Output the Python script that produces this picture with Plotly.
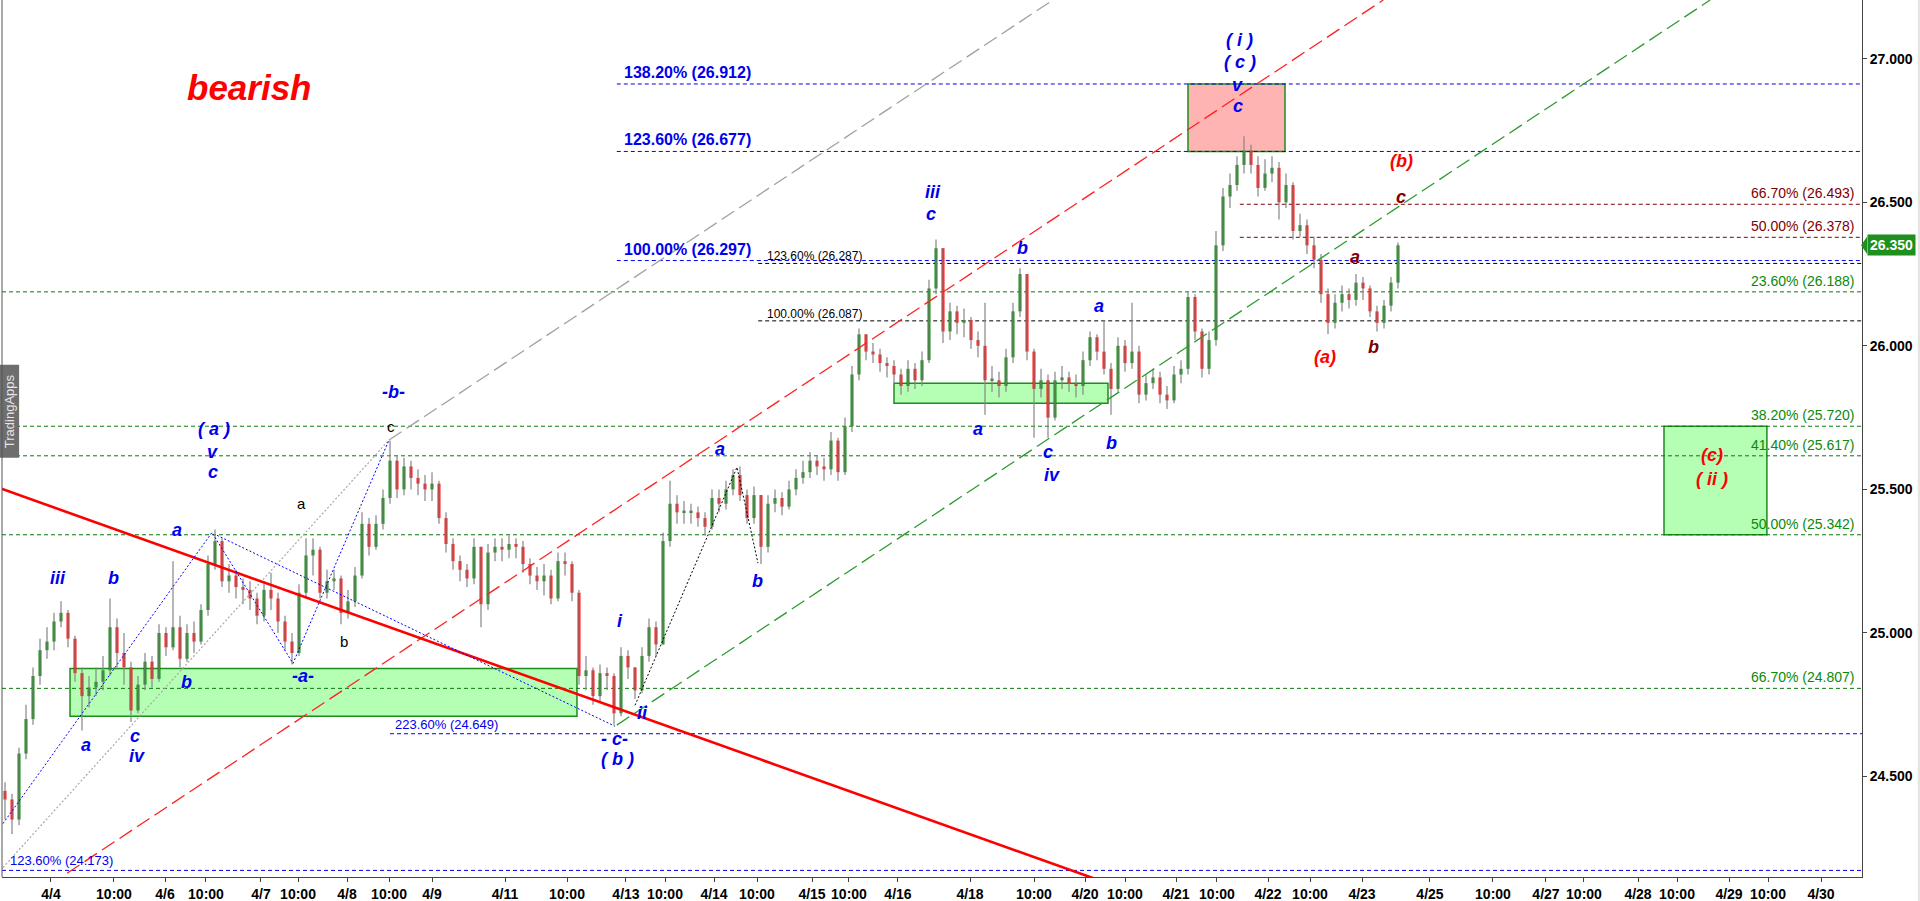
import plotly.graph_objects as go

# ---------------- price data (one bar per slot) ----------------
open_first = 24.45
close = [
    24.42, 24.35, 24.58, 24.70, 24.85, 24.94, 24.97, 25.04, 25.07, 24.98,
    24.86, 24.78, 24.81, 24.83, 24.87, 25.02, 24.93, 24.88, 24.73, 24.82,
    24.90, 24.84, 25.00, 24.95, 25.02, 24.91, 25.00, 24.97, 25.08, 25.24,
    25.32, 25.18, 25.20, 25.16, 25.15, 25.12, 25.06, 25.15, 25.12, 25.04,
    24.97, 24.93, 25.14, 25.27, 25.29, 25.14, 25.18, 25.19, 25.07, 25.11,
    25.20, 25.38, 25.30, 25.38, 25.47, 25.60, 25.50, 25.58, 25.54, 25.52,
    25.50, 25.52, 25.40, 25.31, 25.25, 25.22, 25.19, 25.30, 25.10, 25.28,
    25.30, 25.29, 25.31, 25.30, 25.24, 25.20, 25.18, 25.20, 25.12, 25.25,
    25.24, 25.14, 24.85, 24.87, 24.78, 24.86, 24.85, 24.72, 24.92, 24.88,
    24.80, 24.92, 25.02, 24.96, 25.32, 25.45, 25.42, 25.42, 25.42, 25.40,
    25.37, 25.47, 25.45, 25.50, 25.55, 25.48, 25.40, 25.48, 25.30, 25.45,
    25.47, 25.44, 25.50, 25.54, 25.56, 25.60, 25.58, 25.57, 25.67, 25.56,
    25.72, 25.90, 26.04, 25.98, 25.97, 25.94, 25.93, 25.90, 25.86, 25.92,
    25.88, 25.95, 26.20, 26.34, 26.05, 26.12, 26.08, 26.09, 26.02, 26.00,
    25.88, 25.88, 25.86, 25.96, 26.12, 26.25, 25.98, 25.85, 25.88, 25.75,
    25.88, 25.89, 25.87, 25.86, 25.95, 26.03, 25.98, 25.92, 25.85, 26.00,
    25.94, 25.98, 25.83, 25.87, 25.89, 25.83, 25.81, 25.90, 25.92, 26.17,
    26.05, 25.92, 26.02, 26.35, 26.52, 26.56, 26.63, 26.68, 26.63, 26.55,
    26.60, 26.62, 26.50, 26.56, 26.40, 26.42, 26.35, 26.30, 26.18, 26.08,
    26.15, 26.18, 26.16, 26.22, 26.20, 26.12, 26.08, 26.14, 26.22, 26.35,
]
high = [
    24.48, 24.44, 24.60, 24.75, 24.88, 24.98, 25.02, 25.07, 25.11, 25.08,
    24.99, 24.88, 24.85, 24.88, 24.92, 25.12, 25.05, 25.00, 24.90, 24.85,
    24.93, 24.92, 25.03, 25.02, 25.25, 25.06, 25.03, 25.04, 25.10, 25.27,
    25.36, 25.33, 25.24, 25.22, 25.19, 25.18, 25.14, 25.18, 25.21, 25.14,
    25.06, 25.00, 25.17, 25.33, 25.33, 25.30, 25.22, 25.22, 25.20, 25.15,
    25.23, 25.42, 25.40, 25.41, 25.50, 25.67, 25.62, 25.61, 25.60, 25.57,
    25.55, 25.56, 25.53, 25.42, 25.33, 25.27, 25.24, 25.33, 25.30, 25.31,
    25.33, 25.33, 25.34, 25.33, 25.32, 25.26, 25.23, 25.24, 25.22, 25.28,
    25.28, 25.25, 25.15, 24.92, 24.88, 24.89, 24.88, 24.86, 24.95, 24.94,
    24.88, 24.95, 25.05, 25.04, 25.35, 25.53, 25.48, 25.46, 25.45, 25.44,
    25.42, 25.50, 25.50, 25.53, 25.57, 25.58, 25.50, 25.51, 25.48, 25.48,
    25.50, 25.49, 25.53, 25.57, 25.60, 25.63, 25.62, 25.61, 25.70, 25.68,
    25.75, 25.93, 26.06, 26.04, 26.01, 25.99, 25.96, 25.95, 25.92, 25.95,
    25.94, 25.98, 26.23, 26.37, 26.33, 26.15, 26.14, 26.13, 26.10, 26.05,
    26.15, 25.93, 25.91, 25.99, 26.15, 26.27, 26.24, 25.99, 25.92, 25.90,
    25.91, 25.93, 25.91, 25.90, 25.98, 26.05, 26.04, 26.09, 25.94, 26.03,
    26.02, 26.15, 26.00, 25.90, 25.92, 25.91, 25.86, 25.93, 25.95, 26.19,
    26.18, 26.06, 26.05, 26.40, 26.55, 26.60, 26.66, 26.73, 26.70, 26.66,
    26.65, 26.66, 26.64, 26.60, 26.57, 26.46, 26.44, 26.38, 26.32, 26.20,
    26.18, 26.21, 26.20, 26.25, 26.24, 26.21, 26.14, 26.16, 26.24, 26.36,
]
low = [
    24.35, 24.30, 24.33, 24.56, 24.68, 24.82, 24.91, 24.94, 25.02, 24.95,
    24.83, 24.66, 24.74, 24.78, 24.80, 24.85, 24.88, 24.82, 24.69, 24.72,
    24.80, 24.81, 24.83, 24.92, 24.94, 24.88, 24.90, 24.93, 24.96, 25.06,
    25.22, 25.16, 25.14, 25.12, 25.10, 25.08, 25.03, 25.04, 25.08, 25.00,
    24.94, 24.89, 24.92, 25.12, 25.20, 25.12, 25.12, 25.15, 25.03, 25.05,
    25.09, 25.19, 25.27, 25.29, 25.36, 25.45, 25.47, 25.48, 25.50, 25.48,
    25.46, 25.46, 25.38, 25.28, 25.22, 25.18, 25.16, 25.17, 25.02, 25.08,
    25.25, 25.25, 25.26, 25.26, 25.21, 25.17, 25.15, 25.13, 25.10, 25.11,
    25.20, 25.11, 24.82, 24.80, 24.75, 24.76, 24.80, 24.68, 24.71, 24.84,
    24.77, 24.79, 24.90, 24.92, 24.97, 25.30, 25.38, 25.38, 25.38, 25.37,
    25.34, 25.36, 25.42, 25.43, 25.48, 25.46, 25.38, 25.38, 25.24, 25.28,
    25.42, 25.41, 25.43, 25.48, 25.52, 25.54, 25.55, 25.53, 25.55, 25.53,
    25.55, 25.70, 25.88, 25.95, 25.94, 25.91, 25.89, 25.86, 25.83, 25.84,
    25.85, 25.86, 25.94, 26.18, 26.01, 26.02, 26.04, 26.03, 25.99, 25.96,
    25.76, 25.84, 25.82, 25.84, 25.94, 26.10, 25.95, 25.68, 25.82, 25.68,
    25.74, 25.85, 25.84, 25.82, 25.83, 25.93, 25.95, 25.90, 25.76, 25.84,
    25.91, 25.92, 25.80, 25.81, 25.85, 25.80, 25.78, 25.80, 25.87, 25.90,
    26.02, 25.89, 25.90, 26.00, 26.33, 26.48, 26.54, 26.60, 26.60, 26.52,
    26.54, 26.57, 26.44, 26.48, 26.37, 26.38, 26.32, 26.27, 26.15, 26.04,
    26.06, 26.12, 26.13, 26.14, 26.16, 26.10, 26.05, 26.06, 26.12, 26.20,
]

# ---------------- time axis labels ----------------
tick_labels = ["4/4", "10:00", "4/6", "10:00", "4/7", "10:00", "4/8", "10:00", "4/9",
               "4/11", "10:00", "4/13", "10:00", "4/14", "10:00", "4/15", "10:00", "4/16",
               "4/18", "10:00", "4/20", "10:00", "4/21", "10:00", "4/22", "10:00", "4/23",
               "4/25", "10:00", "4/27", "10:00", "4/28", "10:00", "4/29", "10:00", "4/30"]
tick_slots = [6.57, 15.57, 22.86, 28.71, 36.57, 41.86, 48.86, 54.86, 61.0,
              71.43, 80.29, 88.71, 94.29, 101.29, 107.43, 115.29, 120.57, 127.57,
              137.86, 147.0, 154.29, 160.0, 167.29, 173.14, 180.43, 186.43, 193.86,
              203.57, 212.57, 220.14, 225.57, 233.29, 238.86, 246.29, 251.86, 259.43]

# ---------------- fibonacci levels ----------------
green_levels = [26.188, 25.720, 25.617, 25.342, 24.807]
green_ratios = ["23.60%", "38.20%", "41.40%", "50.00%", "66.70%"]
blue_levels = [26.912, 26.677, 26.297]
blue_ratios = ["138.20%", "123.60%", "100.00%"]
blue_low_levels = [24.649, 24.173]
blue_low_ratios = ["223.60%", "123.60%"]
black_levels = [26.287, 26.087]
black_ratios = ["123.60%", "100.00%"]
maroon_levels = [26.493, 26.378]
maroon_ratios = ["66.70%", "50.00%"]

# ---------------- wave labels (text, slot, price, kind) ----------------
wave_labels = [
    ("iii", 7.57, 25.19, "blue"), ("b", 15.57, 25.19, "blue"), ("a", 11.57, 24.61, "blue"),
    ("c", 18.57, 24.64, "blue"), ("iv", 18.86, 24.57, "blue"), ("b", 25.86, 24.83, "blue"),
    ("a", 24.57, 25.36, "blue"), ("( a )", 29.86, 25.71, "blue"), ("v", 29.71, 25.63, "blue"),
    ("c", 29.71, 25.56, "blue"), ("-a-", 42.57, 24.85, "blue"), ("-b-", 55.43, 25.84, "blue"),
    ("a", 42.29, 25.45, "black"), ("b", 48.43, 24.97, "black"), ("c", 55.14, 25.72, "black"),
    ("i", 87.86, 25.04, "blue"), ("ii", 91.14, 24.72, "blue"), ("- c-", 87.14, 24.63, "blue"),
    ("( b )", 87.57, 24.56, "blue"), ("a", 102.14, 25.64, "blue"), ("b", 107.57, 25.18, "blue"),
    ("iii", 132.57, 26.535, "blue"), ("c", 132.29, 26.46, "blue"), ("b", 145.29, 26.34, "blue"),
    ("a", 139.0, 25.71, "blue"), ("a", 156.29, 26.14, "blue"), ("c", 149.0, 25.63, "blue"),
    ("iv", 149.57, 25.55, "blue"), ("b", 158.0, 25.66, "blue"),
    ("( i )", 176.29, 27.065, "blue"), ("( c )", 176.43, 26.99, "blue"),
    ("v", 176.14, 26.91, "blue"), ("c", 176.14, 26.835, "blue"),
    ("(b)", 199.57, 26.645, "red"), ("c", 199.43, 26.52, "maroon"),
    ("a", 192.86, 26.31, "maroon"), ("b", 195.57, 25.995, "maroon"),
    ("(a)", 188.57, 25.96, "red"), ("(c)", 243.86, 25.62, "red"), ("( ii )", 243.86, 25.535, "red"),
]

FONT = "Liberation Sans, Arial, sans-serif"
BLUE = "#0000ee"
GREEN = "#0a8a0a"
MAROON = "#800000"

opens = [open_first] + close[:-1]
n = len(close)
xs = list(range(n))

fig = go.Figure()

# wicks
wx, wy = [], []
for i in xs:
    wx += [i, i, None]
    wy += [min(low[i], opens[i], close[i]), max(high[i], opens[i], close[i]), None]
fig.add_trace(go.Scatter(x=wx, y=wy, mode="lines", line=dict(color="#858585", width=1.2),
                         hoverinfo="skip"))

# bodies
for up, col in ((True, "#008000"), (False, "#ff0000")):
    bx, bb, bh = [], [], []
    for i in xs:
        if (close[i] >= opens[i]) == up:
            bx.append(i)
            bb.append(min(opens[i], close[i]))
            bh.append(max(abs(close[i] - opens[i]), 0.006))
    fig.add_trace(go.Bar(x=bx, y=bh, base=bb, width=0.42, marker=dict(color=col, line=dict(width=0)),
                         hoverinfo="skip"))

X0, X1 = -0.4286, 265.2857
Y0, Y1 = 24.150, 27.2045

shapes = []
# boxes
boxes = [
    (9.29, 81.71, 24.71, 24.876, "#b4ffb4"),
    (127.0, 157.57, 25.80, 25.87, "#b4ffb4"),
    (237.0, 251.7, 25.342, 25.720, "#b4ffb4"),
    (169.0, 182.86, 26.677, 26.912, "#ffb4b4"),
]
for x0, x1, y0, y1, fc in boxes:
    shapes.append(dict(type="rect", xref="x", yref="y", x0=x0, x1=x1, y0=y0, y1=y1,
                       fillcolor=fc, line=dict(color="#1e8c1e", width=1.5), layer="below"))


def hline(y, x0, color, dash="4px,3px", width=1):
    shapes.append(dict(type="line", xref="x", yref="y", x0=x0, x1=X1, y0=y, y1=y,
                       line=dict(color=color, width=width, dash=dash), layer="below"))


annotations = []
for lv, r in zip(green_levels, green_ratios):
    hline(lv, X0, "#0a7a0a")
    annotations.append(dict(text=f"{r} ({lv:.3f})", xref="paper", x=0.9973, xanchor="right",
                            y=lv, yref="y", yanchor="bottom", yshift=1, showarrow=False,
                            font=dict(family=FONT, size=14, color=GREEN)))
for lv, r in zip(maroon_levels, maroon_ratios):
    hline(lv, 176.4, MAROON)
    annotations.append(dict(text=f"{r} ({lv:.3f})", xref="paper", x=0.9973, xanchor="right",
                            y=lv, yref="y", yanchor="bottom", yshift=1, showarrow=False,
                            font=dict(family=FONT, size=14, color=MAROON)))
for lv, r in zip(blue_levels, blue_ratios):
    hline(lv, 87.4, BLUE)
    annotations.append(dict(text=f"<b>{r} ({lv:.3f})</b>", x=88.1, xanchor="left",
                            y=lv, yref="y", yanchor="bottom", yshift=1, showarrow=False,
                            font=dict(family=FONT, size=16, color=BLUE)))
for lv, r, xs0, xt in zip(blue_low_levels, blue_low_ratios, [55.0, X0], [55.4, 0.43]):
    hline(lv, xs0, BLUE)
    annotations.append(dict(text=f"{r} ({lv:.3f})", x=xt, xanchor="left",
                            y=lv, yref="y", yanchor="bottom", yshift=0, showarrow=False,
                            font=dict(family=FONT, size=13, color=BLUE)))
for lv, r in zip(black_levels, black_ratios):
    hline(lv, 107.6, "#000000")
    annotations.append(dict(text=f"{r} ({lv:.3f})", x=108.6, xanchor="left",
                            y=lv, yref="y", yanchor="bottom", yshift=-2, showarrow=False,
                            font=dict(family=FONT, size=12, color="#000000")))

# trend / channel lines
lines = [
    ([-0.29, 54.86], [24.183, 25.672], "#a8a8a8", "2px,2px", 1.2),      # gray dotted
    ([54.86, 149.7], [25.672, 27.2045], "#a0a0a0", "15px,6px", 1.3),   # gray dashed
    ([8.86, 196.9], [24.163, 27.2045], "#ff2020", "15px,6px", 1.3),    # red dashed
    ([87.4, 243.6], [24.679, 27.2045], "#2e9a2e", "15px,6px", 1.3),    # green dashed
    ([-0.71, 165.7], [25.504, 24.057], "#ff0000", "solid", 2.6),       # red solid
    ([-0.29, 29.57, 41.14, 54.86], [24.336, 25.35, 24.894, 25.672], "#0000ff", "2px,2px", 1),
    ([30.29, 87.14], [25.34, 24.675], "#0000ff", "2px,2px", 1),
    ([90.0, 104.57, 107.57], [24.748, 25.577, 25.243], "#000000", "2px,2px", 1),
]
for lx, ly, col, dash, w in lines:
    fig.add_trace(go.Scatter(x=lx, y=ly, mode="lines", line=dict(color=col, width=w, dash=dash),
                             hoverinfo="skip"))

colors = {"blue": BLUE, "black": "#000000", "red": "#ff0000", "maroon": MAROON}
for txt, sx, py, kind in wave_labels:
    if kind == "black":
        t, size = txt, 15
    else:
        t, size = f"<b><i>{txt}</i></b>", 18
    annotations.append(dict(text=t, x=sx, y=py, xref="x", yref="y", showarrow=False,
                            xanchor="center", yanchor="middle",
                            font=dict(family=FONT, size=size, color=colors[kind])))

annotations.append(dict(text="<b><i>bearish</i></b>", x=34.86, y=26.90, xref="x", yref="y",
                        showarrow=False, font=dict(family=FONT, size=35, color="#ff0000")))

# watermark
shapes.append(dict(type="rect", xref="paper", yref="paper", x0=-0.002, x1=0.0092,
                   y0=0.478, y1=0.584, fillcolor="#6e6e6e", line=dict(width=0)))
annotations.append(dict(text="TradingApps", xref="paper", yref="paper", x=0.0037, y=0.531,
                        textangle=-90, showarrow=False, xanchor="center", yanchor="middle",
                        font=dict(family=FONT, size=13, color="#e6e6e6")))

# left border and right window strip
shapes.append(dict(type="line", xref="paper", yref="paper", x0=0, x1=0, y0=0, y1=1,
                   line=dict(color="#555555", width=1)))
shapes.append(dict(type="rect", xref="paper", yref="paper", x0=1.0300, x1=1.0330,
                   y0=-0.03, y1=1.0, fillcolor="#e4e4e4", line=dict(width=0)))

# current price tag (arrow + label box)
last = close[-1]
shapes.append(dict(type="path", xref="paper", yref="y",
                   path=f"M 0.9995,{last} L 1.0028,{last + 0.031} L 1.0028,{last - 0.031} Z",
                   fillcolor="#1f8f1f", line=dict(width=0)))
annotations.append(dict(text=f"<b>{last:.3f}</b>", xref="paper", x=1.0026, y=last, yref="y",
                        xanchor="left", yanchor="middle", showarrow=False,
                        bgcolor="#1f8f1f", borderpad=2,
                        font=dict(family=FONT, size=14, color="white")))

fig.update_layout(
    width=1920, height=901,
    margin=dict(l=2, r=58, t=0, b=24),
    paper_bgcolor="white", plot_bgcolor="white",
    showlegend=False, barmode="overlay", hovermode=False,
    shapes=shapes, annotations=annotations,
    xaxis=dict(range=[X0, X1], showgrid=False, zeroline=False, tickmode="array",
               tickvals=tick_slots, ticktext=tick_labels, ticks="outside", ticklen=4,
               tickcolor="#444", showline=True, linecolor="#444", linewidth=1,
               tickfont=dict(family=FONT, size=14, color="black", weight="bold")),
    yaxis=dict(range=[Y0, Y1], side="right", showgrid=False, zeroline=False,
               tickvals=[24.5, 25.0, 25.5, 26.0, 26.5, 27.0], tickformat=".3f",
               ticks="outside", ticklen=4, tickcolor="#444", showline=True,
               linecolor="#444", linewidth=1,
               tickfont=dict(family=FONT, size=14, color="black", weight="bold")),
)

fig.write_html("out.html", config={"displayModeBar": False},
               post_script="document.body.style.margin='0';document.body.style.overflow='hidden';")
